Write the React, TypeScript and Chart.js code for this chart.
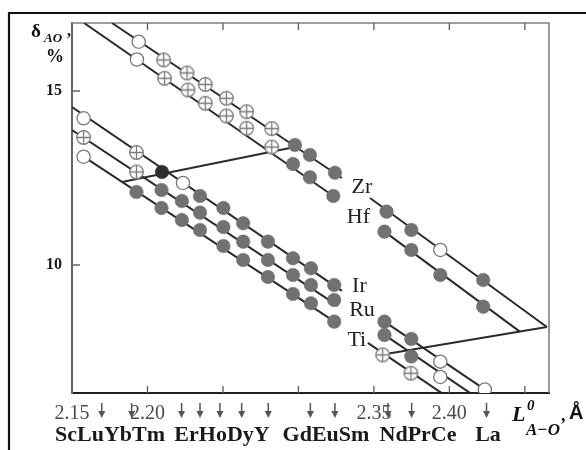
import React, { useEffect, useRef } from "react";
import { Chart, registerables } from "chart.js";

Chart.register(...registerables);

type P = [number, number];

// ---------- axes ----------
const xMin = 2.15;
const xMax = 2.466;
const yMin = 6.32;
const yMax = 16.954;
const xTickMarks = [2.2, 2.25, 2.3, 2.35, 2.4, 2.45];
const xTickLabels = ["2.15", "2.20", "2.35", "2.40"];
const yTickLabels = [10, 15];

// A–O bond lengths of the A cations (arrows under the axis)
const arrowPositions = [2.1697, 2.1895, 2.2226, 2.2348, 2.248, 2.2624, 2.28, 2.3079, 2.3242, 2.3593, 2.375, 2.4246];
const elementGroups = ["ScLuYbTm", "ErHoDyY", "GdEuSm", "NdPrCe", "La"];
const seriesNames = ["Zr", "Hf", "Ir", "Ru", "Ti"];

// ---------- Zr / Hf, left branch ----------
const zrLeftOpen: P[] = [[2.1942, 16.417]];
const zrLeftCrossed: P[] = [[2.2107, 15.891], [2.2262, 15.517], [2.2383, 15.187], [2.2523, 14.79], [2.2657, 14.405], [2.2823, 13.92]];
const zrLeftFilled: P[] = [[2.2977, 13.448], [2.3076, 13.161], [2.3242, 12.652]];
const zrLeftLine: P[] = [[2.1765, 16.954], [2.3288, 12.5]];

const hfLeftOpen: P[] = [[2.193, 15.905]];
const hfLeftCrossed: P[] = [[2.2113, 15.365], [2.2268, 15.029], [2.2383, 14.647], [2.2523, 14.282], [2.2657, 13.928], [2.2823, 13.39]];
const hfLeftFilled: P[] = [[2.2964, 12.902], [2.3076, 12.52], [2.3231, 11.983]];
const hfLeftLine: P[] = [[2.158, 16.954], [2.3231, 11.983]];

// ---------- Zr / Hf, right branch ----------
const zrRightOpen: P[] = [[2.394, 10.431]];
const zrRightFilled: P[] = [[2.3584, 11.532], [2.3748, 11.006], [2.4224, 9.569]];
const zrRightLine: P[] = [[2.3474, 11.925], [2.4646, 8.218]];

const hfRightFilled: P[] = [[2.357, 10.957], [2.3748, 10.431], [2.394, 9.713], [2.4224, 8.802]];
const hfRightLine: P[] = [[2.357, 10.957], [2.4467, 8.083]];

// ---------- Ir / Ru / Ti, left branch ----------
const irLeftOpen: P[] = [[2.1577, 14.216], [2.2235, 12.356]];
const irLeftCrossed: P[] = [[2.1927, 13.233]];
const irLeftDark: P[] = [[2.2096, 12.672]];
const irLeftFilled: P[] = [[2.2348, 11.983], [2.2503, 11.638], [2.2634, 11.198], [2.2798, 10.67], [2.2964, 10.193], [2.3083, 9.905], [2.3237, 9.425]];
const irLeftLine: P[] = [[2.15, 14.54], [2.3288, 9.253]];

const ruLeftCrossed: P[] = [[2.1577, 13.664], [2.1927, 12.672]];
const ruLeftFilled: P[] = [[2.2093, 12.155], [2.2228, 11.839], [2.2348, 11.503], [2.2503, 11.092], [2.2634, 10.67], [2.2798, 10.144], [2.2964, 9.713], [2.3083, 9.425], [2.3237, 8.994]];
const ruLeftLine: P[] = [[2.15, 13.879], [2.3262, 8.822]];

const tiLeftOpen: P[] = [[2.1577, 13.112]];
const tiLeftFilled: P[] = [[2.1927, 12.098], [2.2093, 11.638], [2.2228, 11.293], [2.2348, 11.006], [2.2503, 10.546], [2.2634, 10.144], [2.2798, 9.655], [2.2964, 9.167], [2.3083, 8.899], [2.3237, 8.371]];
const tiLeftLine: P[] = [[2.1577, 13.112], [2.3262, 8.305]];

// ---------- Ir / Ru / Ti, right branch ----------
const irRightFilled: P[] = [[2.357, 8.371], [2.3748, 7.874]];
const irRightOpen: P[] = [[2.394, 7.221], [2.4235, 6.422]];
const irRightLine: P[] = [[2.357, 8.371], [2.4268, 6.322]];

const ruRightFilled: P[] = [[2.357, 7.989], [2.3748, 7.371]];
const ruRightOpen: P[] = [[2.394, 6.782]];
const ruRightLine: P[] = [[2.357, 7.989], [2.4136, 6.322]];

const tiRightCrossed: P[] = [[2.3558, 7.414], [2.3745, 6.888]];
const tiRightLine: P[] = [[2.346, 7.759], [2.3947, 6.322]];

// ---------- phase-boundary links ----------
const linkLeft: P[] = [[2.1831, 12.385], [2.2944, 13.362]];
const linkRight: P[] = [[2.4646, 8.218], [2.354, 7.414]];

// label anchors (data space)
const nameAnchors: P[] = [[2.3421, 12.227], [2.3397, 11.365], [2.3404, 9.382], [2.3421, 8.707], [2.3387, 7.845]];

const toXY = (a: P[]) => a.map(([x, y]) => ({ x, y }));

function makeCrossed(): HTMLCanvasElement {
  const c = document.createElement("canvas");
  c.width = 17;
  c.height = 17;
  const g = c.getContext("2d")!;
  g.fillStyle = "#fff";
  g.strokeStyle = "#7a7a7a";
  g.lineWidth = 1.3;
  g.beginPath();
  g.arc(8.5, 8.5, 6.8, 0, Math.PI * 2);
  g.fill();
  g.stroke();
  g.beginPath();
  g.moveTo(8.5, 1.8);
  g.lineTo(8.5, 15.2);
  g.moveTo(1.8, 8.5);
  g.lineTo(15.2, 8.5);
  g.stroke();
  return c;
}

const SERIF = '"Liberation Serif", "Times New Roman", serif';

const decor = {
  id: "decor",
  beforeDatasetsDraw(chart: any) {
    const { ctx, chartArea: a, scales } = chart;
    const xs = scales.x;
    const ys = scales.y;
    ctx.save();
    ctx.strokeStyle = "#808080";
    ctx.lineWidth = 1.6;
    ctx.beginPath();
    ctx.moveTo(a.left, a.top);
    ctx.lineTo(a.right, a.top);
    ctx.lineTo(a.right, a.bottom);
    ctx.stroke();
    ctx.strokeStyle = "#666";
    ctx.lineWidth = 1.4;
    ctx.beginPath();
    for (const v of xTickMarks) {
      const px = xs.getPixelForValue(v);
      ctx.moveTo(px, a.bottom);
      ctx.lineTo(px, a.bottom - 7);
      ctx.moveTo(px, a.top);
      ctx.lineTo(px, a.top + 7);
    }
    for (const v of yTickLabels) {
      const py = ys.getPixelForValue(v);
      ctx.moveTo(a.left, py);
      ctx.lineTo(a.left + 8, py);
    }
    ctx.stroke();
    ctx.restore();
  },
  afterDraw(chart: any) {
    const { ctx, scales } = chart;
    const xs = scales.x;
    const ys = scales.y;
    ctx.save();
    // outer frame
    ctx.strokeStyle = "#111";
    ctx.lineWidth = 2.2;
    ctx.beginPath();
    ctx.moveTo(9, 450);
    ctx.lineTo(9, 13);
    ctx.lineTo(586, 13);
    ctx.stroke();

    // series names
    ctx.fillStyle = "#222";
    ctx.font = `22px ${SERIF}`;
    ctx.textAlign = "center";
    ctx.textBaseline = "middle";
    seriesNames.forEach((n, i) => {
      const [vx, vy] = nameAnchors[i];
      ctx.fillText(n, xs.getPixelForValue(vx), ys.getPixelForValue(vy));
    });

    // arrows
    ctx.strokeStyle = "#555";
    ctx.fillStyle = "#555";
    ctx.lineWidth = 1.5;
    for (const v of arrowPositions) {
      const px = xs.getPixelForValue(v);
      ctx.beginPath();
      ctx.moveTo(px, 403);
      ctx.lineTo(px, 412);
      ctx.stroke();
      ctx.beginPath();
      ctx.moveTo(px - 3.5, 411);
      ctx.lineTo(px + 3.5, 411);
      ctx.lineTo(px, 418);
      ctx.closePath();
      ctx.fill();
    }

    // element names
    ctx.fillStyle = "#1a1a1a";
    ctx.font = `bold 22px ${SERIF}`;
    ctx.textAlign = "center";
    ctx.textBaseline = "alphabetic";
    const groupCenters = [110, 222, 326, 418, 488];
    elementGroups.forEach((g, i) => ctx.fillText(g, groupCenters[i], 441));

    // y title
    ctx.textAlign = "left";
    ctx.fillStyle = "#111";
    ctx.font = `bold 19px ${SERIF}`;
    ctx.fillText("δ", 31, 37);
    ctx.font = `italic bold 13px ${SERIF}`;
    ctx.fillText("AO", 44, 42);
    ctx.font = `bold 16px ${SERIF}`;
    ctx.fillText(",", 67, 36);
    ctx.font = `bold 18px ${SERIF}`;
    ctx.fillText("%", 46, 62);

    // x title
    ctx.font = `italic bold 22px ${SERIF}`;
    ctx.fillText("L", 512, 421);
    ctx.font = `italic bold 15px ${SERIF}`;
    ctx.fillText("0", 527, 410);
    ctx.font = `italic bold 17px ${SERIF}`;
    ctx.fillText("A\u2212O", 526, 435);
    ctx.font = `bold 18px ${SERIF}`;
    ctx.fillText(",", 561, 421);
    ctx.font = `bold 20px "Liberation Sans", Arial, sans-serif`;
    ctx.fillText("Å", 569, 419);
    ctx.restore();
  },
};

export default function App() {
  const ref = useRef<HTMLCanvasElement>(null);
  useEffect(() => {
    const crossed = makeCrossed();
    const openStyle = {
      pointStyle: "circle",
      pointRadius: 6.6,
      pointBackgroundColor: "#fff",
      pointBorderColor: "#7a7a7a",
      pointBorderWidth: 1.3,
      showLine: false,
    };
    const filledStyle = {
      pointStyle: "circle",
      pointRadius: 6.8,
      pointBackgroundColor: "#717171",
      pointBorderColor: "#717171",
      pointBorderWidth: 0.5,
      showLine: false,
    };
    const lineStyle = {
      showLine: true,
      pointRadius: 0,
      borderColor: "#2b2b2b",
      borderWidth: 2,
      fill: false,
    };
    const lines = [
      zrLeftLine, hfLeftLine, zrRightLine, hfRightLine,
      irLeftLine, ruLeftLine, tiLeftLine,
      irRightLine, ruRightLine, tiRightLine,
      linkLeft, linkRight,
    ];
    const datasets: any[] = [
      {
        label: "open",
        data: toXY([...zrLeftOpen, ...hfLeftOpen, ...zrRightOpen, ...irLeftOpen, ...tiLeftOpen, ...irRightOpen, ...ruRightOpen]),
        ...openStyle,
      },
      {
        label: "crossed",
        data: toXY([...zrLeftCrossed, ...hfLeftCrossed, ...irLeftCrossed, ...ruLeftCrossed, ...tiRightCrossed]),
        pointStyle: crossed,
        showLine: false,
      },
      {
        label: "dark",
        data: toXY(irLeftDark),
        ...filledStyle,
        pointBackgroundColor: "#2e2e2e",
        pointBorderColor: "#2e2e2e",
      },
      {
        label: "filled",
        data: toXY([
          ...zrLeftFilled, ...hfLeftFilled, ...zrRightFilled, ...hfRightFilled,
          ...irLeftFilled, ...ruLeftFilled, ...tiLeftFilled,
          ...irRightFilled, ...ruRightFilled,
        ]),
        ...filledStyle,
      },
      ...lines.map((l, i) => ({ label: "line" + i, data: toXY(l), ...lineStyle })),
    ];

    const chart = new Chart(ref.current!, {
      type: "scatter",
      data: { datasets },
      options: {
        responsive: true,
        maintainAspectRatio: false,
        animation: false,
        layout: { padding: { top: 23, right: 37, left: 0, bottom: 0 } },
        plugins: { legend: { display: false }, tooltip: { enabled: false } },
        scales: {
          x: {
            type: "linear",
            min: xMin,
            max: xMax,
            afterFit: (s: any) => {
              s.height = 57;
            },
            border: { display: true, color: "#222", width: 2 },
            grid: { display: false, drawTicks: false },
            ticks: {
              stepSize: 0.05,
              autoSkip: false,
              maxRotation: 0,
              padding: 9,
              color: "#4a4a4a",
              font: { family: SERIF, size: 20 },
              callback: (v: any) => {
                const s = Number(v).toFixed(2);
                return xTickLabels.includes(s) ? s : "";
              },
            },
          },
          y: {
            type: "linear",
            min: yMin,
            max: yMax,
            afterFit: (s: any) => {
              s.width = 72;
            },
            border: { display: true, color: "#666", width: 2 },
            grid: { display: false, drawTicks: false },
            ticks: {
              stepSize: 5,
              autoSkip: false,
              padding: 10,
              color: "#1a1a1a",
              font: { family: SERIF, size: 16, weight: "bold" },
              callback: (v: any) => (yTickLabels.includes(Number(v)) ? String(v) : ""),
            },
          },
        },
      },
      plugins: [decor],
    } as any);
    return () => chart.destroy();
  }, []);
  return (
    <div style={{ position: "absolute", left: 0, top: 0, width: 586, height: 450, background: "#fff" }}>
      <canvas ref={ref} />
    </div>
  );
}
